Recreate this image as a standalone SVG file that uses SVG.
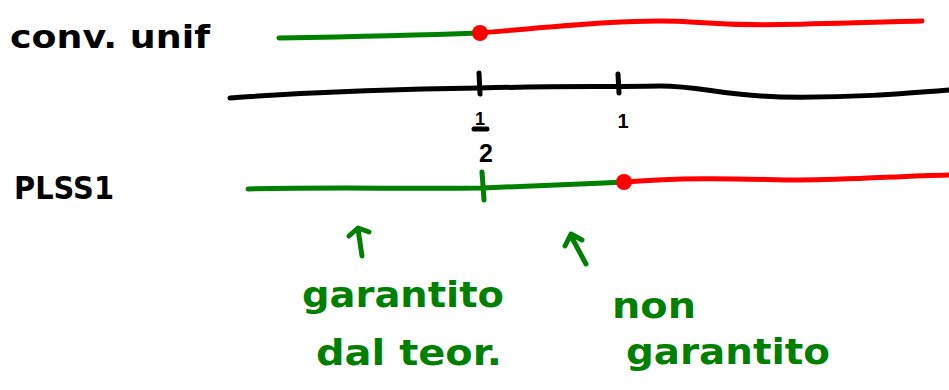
<svg xmlns="http://www.w3.org/2000/svg" width="949" height="390" viewBox="0 0 949 390">
  <style>
    .pen { fill: none; stroke-width: 5; stroke-linecap: round; stroke-linejoin: round; }
    .ok { stroke: #008000; }
    .ko { stroke: #ff0000; }
    .ax { stroke: #000000; }
    .dot { fill: #ff0000; }
    .lbl { font-family: "DejaVu Sans", "Liberation Sans", sans-serif; font-weight: bold; }
    .num { font-family: "Liberation Sans", Arial, sans-serif; font-weight: bold; }
    .blk { fill: #000000; }
    .grn { fill: #008000; }
  </style>

  <!-- row labels -->
  <g id="label-conv">
    <text class="lbl blk" x="10" y="48" font-size="32" textLength="200" lengthAdjust="spacingAndGlyphs">conv. unif</text>
  </g>
  <g id="label-plss1">
    <text class="lbl blk" x="14" y="199" font-size="32" textLength="100" lengthAdjust="spacingAndGlyphs">PLSS1</text>
  </g>

  <!-- uniform convergence row -->
  <g id="row-conv">
    <path class="pen ok" d="M279,38 C340,37 400,36 479,33"/>
    <path class="pen ko" d="M481,33 C560,26 640,18 690,22 C760,27 800,24 922,21"/>
    <circle class="dot" cx="480" cy="33" r="8"/>
  </g>

  <!-- number axis with ticks at 1/2 and 1 -->
  <g id="axis">
    <path class="pen ax" d="M230,98 C300,93 380,89 480,88 C560,86 600,87 660,86 C700,86 720,95 780,97 C850,98 900,94 949,90"/>
    <path class="pen ax" d="M479,73 L480,94"/>
    <path class="pen ax" d="M618,74 L619,93"/>
  </g>
  <g id="tick-half">
    <text class="num blk" x="480" y="125" font-size="18" text-anchor="middle">1</text>
    <path class="pen ax" stroke-width="4" d="M474,129 L487,129"/>
    <text class="num blk" x="486" y="162" font-size="25" text-anchor="middle">2</text>
  </g>
  <g id="tick-one">
    <text class="num blk" x="623" y="128" font-size="20" text-anchor="middle">1</text>
  </g>

  <!-- PLSS1 row -->
  <g id="row-plss1">
    <path class="pen ok" d="M248,189 C330,187 400,189 483,188 C540,186 580,184 623,182"/>
    <path class="pen ok" d="M482,172 L484,200"/>
    <path class="pen ko" d="M625,182 C700,176 760,180 800,180 C850,180 900,176 949,175"/>
    <circle class="dot" cx="624" cy="182" r="8"/>
  </g>

  <!-- pointers -->
  <g id="connectors">
    <path class="pen ok" stroke-width="4" d="M362,256 L358,229 M349,236 L358,228 L369,232"/>
    <path class="pen ok" stroke-width="4" d="M586,264 L571,236 M565,246 L571,234 L582,240"/>
  </g>

  <!-- annotations -->
  <g id="note-guaranteed">
    <text class="lbl grn" x="302" y="307" font-size="36" textLength="202" lengthAdjust="spacingAndGlyphs">garantito</text>
    <text class="lbl grn" x="316" y="365" font-size="36" textLength="186" lengthAdjust="spacingAndGlyphs">dal teor.</text>
  </g>
  <g id="note-not-guaranteed">
    <text class="lbl grn" x="612" y="318" font-size="36" textLength="84" lengthAdjust="spacingAndGlyphs">non</text>
    <text class="lbl grn" x="626" y="364" font-size="36" textLength="204" lengthAdjust="spacingAndGlyphs">garantito</text>
  </g>
</svg>
